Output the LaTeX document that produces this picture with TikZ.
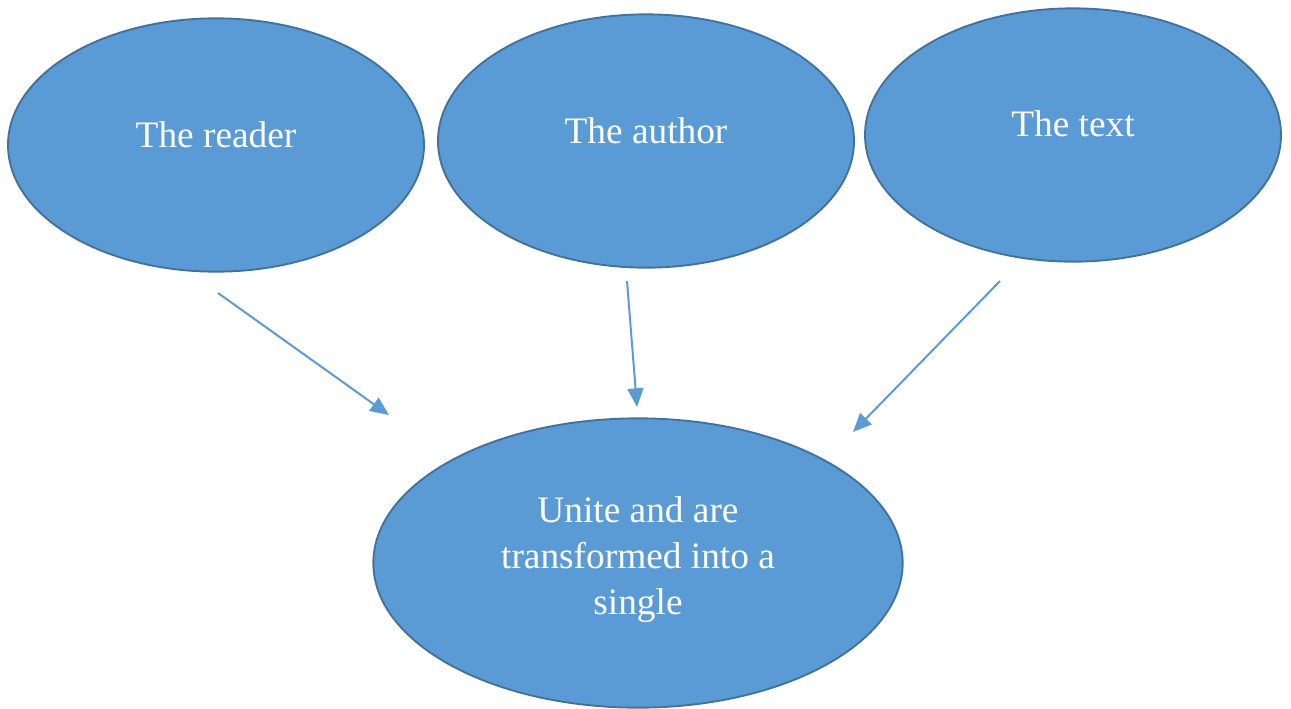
\documentclass[tikz,border=0pt]{standalone}
\usepackage{fontspec}
\setmainfont{Liberation Serif}
\usepackage{xcolor}
\usetikzlibrary{shapes.geometric,arrows.meta,positioning,calc}

\definecolor{bubblefill}{HTML}{5B9BD5}
\definecolor{bubbleline}{HTML}{41719C}

\tikzset{
  bubble/.style={ellipse, draw=bubbleline, fill=bubblefill, line width=1.4pt,
    inner sep=0pt, minimum width=312pt, minimum height=190pt,
    text=white, font=\fontsize{28}{34.5}\selectfont, align=center},
  link/.style={draw=bubblefill, line width=1.5pt,
    -{Triangle[length=14pt, width=12pt]}}
}

\begin{document}
\begin{tikzpicture}[x=0.75pt, y=-0.75pt]
        \useasboundingbox (0,0) rectangle (1291,708);

        % Sources
        \node (reader) [bubble] at (216,145) {\raisebox{-1.5pt}[0pt][0pt]{The reader}};
        \node (author) [bubble] at (646,141) {\raisebox{-1.5pt}[0pt][0pt]{The author}};
        \node (text) [bubble] at (1073,135) {\raisebox{-1pt}[0pt][0pt]{The text}};

        % Result
        \node (single) [bubble, minimum width=397pt, minimum height=217pt] at (638,563)
              {\raisebox{-3.5pt}[0pt][0pt]{\begin{tabular}{@{}c@{}}Unite and are\\transformed into a\\single\end{tabular}}};

        % Arrow ends
        \coordinate (r1) at (218,293);
        \coordinate (r2) at (389,415);
        \coordinate (a1) at (627,281);
        \coordinate (a2) at (637,407);
        \coordinate (t1) at (1000,281);
        \coordinate (t2) at (853,432);

        % Arrows
        \draw[link] (r1) -- (r2);
        \draw[link] (a1) -- (a2);
        \draw[link] (t1) -- (t2);
    \end{tikzpicture}
\end{document}
